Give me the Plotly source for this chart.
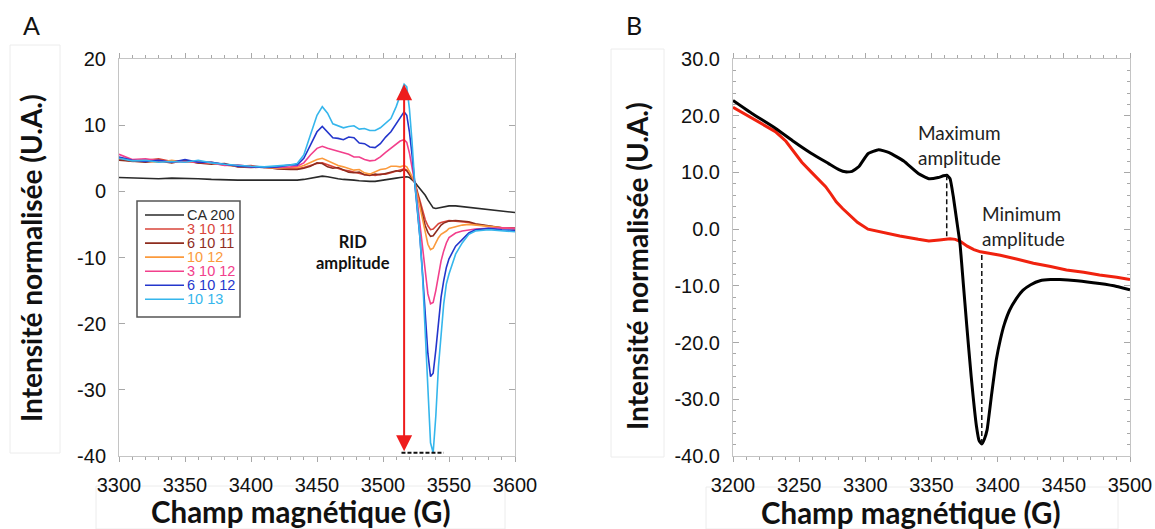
import numpy as np
import plotly.graph_objects as go

W, H = 1155, 529

# ---------------- Panel A data ----------------
field_A = [3300, 3310, 3320, 3330, 3340, 3350, 3360, 3370, 3380, 3390, 3400, 3410, 3420, 3430,
           3435, 3440, 3445, 3450,
           3454, 3458, 3462, 3466, 3470, 3474, 3478, 3482, 3486, 3490, 3494, 3498, 3502, 3506, 3510,
           3513, 3516,
           3518, 3520, 3522, 3524, 3526, 3528, 3530, 3532, 3534, 3536, 3538, 3540, 3542, 3544, 3546, 3548, 3550,
           3555, 3560, 3565, 3570, 3580, 3590, 3600]

ca_200 = [2.1, 2.0, 2.0, 1.9, 2.0, 2.0, 1.9, 1.8, 1.7, 1.7, 1.7, 1.7, 1.6, 1.6,
          1.7, 1.8, 2.0, 2.2,
          2.3, 2.2, 2.0, 1.9, 1.8, 1.8, 1.7, 1.6, 1.5, 1.5, 1.5, 1.6, 1.7, 1.8, 2.0,
          2.1, 2.2,
          2.2, 2.1, 1.8, 1.4, 0.9, 0.4, 0.0, -0.6, -1.3, -2.0, -2.5, -2.6, -2.5, -2.4, -2.3, -2.3, -2.2,
          -2.2, -2.3, -2.4, -2.6, -2.8, -3.0, -3.2]

s_3_10_11 = [4.9, 4.5, 4.7, 4.9, 4.5, 4.6, 4.3, 4.4, 4.0, 3.8, 3.9, 3.6, 3.5, 3.5,
             3.4, 3.6, 3.9, 4.2,
             4.3, 4.0, 3.8, 3.4, 3.2, 3.1, 2.9, 2.6, 2.5, 2.6, 2.4, 2.6, 2.6, 2.8, 3.0,
             3.2, 3.4,
             3.2, 2.6, 2.0, 1.4, 0.0, -1.5, -3.0, -4.3, -5.2, -5.8, -5.7, -5.3, -4.9, -4.7, -4.6, -4.5, -4.4,
             -4.5, -4.6, -4.7, -5.0, -5.3, -5.5, -5.6]

s_6_10_11 = [4.7, 4.6, 4.4, 4.6, 4.3, 4.7, 4.3, 4.1, 4.2, 3.7, 3.6, 3.7, 3.4, 3.3,
             3.3, 3.5, 3.8, 4.3,
             4.2, 3.7, 3.5, 3.6, 3.2, 2.9, 2.8, 2.9, 2.5, 2.4, 2.6, 2.5, 2.7, 2.9, 3.1,
             3.0, 3.3,
             3.1, 2.5, 1.9, 1.4, -0.3, -2.0, -3.7, -5.2, -6.2, -6.8, -6.7, -6.2, -5.6, -5.1, -4.8, -4.6, -4.5,
             -4.4, -4.5, -4.6, -4.9, -5.2, -5.5, -5.6]

s_10_12 = [5.1, 4.7, 4.6, 4.4, 4.7, 4.4, 4.5, 4.2, 4.0, 3.8, 3.7, 3.6, 3.5, 3.6,
           3.6, 3.9, 4.4, 4.8,
           5.0, 4.6, 4.3, 3.9, 3.7, 3.4, 3.2, 3.3, 2.8, 2.6, 2.9, 3.3, 3.4, 3.8, 3.8,
           3.7, 3.9,
           3.7, 3.0, 2.2, 1.4, -0.5, -2.5, -4.5, -6.5, -8.0, -8.8, -8.6, -7.8, -7.0, -6.5, -6.3, -6.0, -5.6,
           -5.3, -5.1, -5.0, -5.1, -5.4, -5.6, -5.7]

s_3_10_12 = [5.6, 4.8, 4.9, 4.6, 4.4, 4.5, 4.4, 4.3, 3.9, 4.0, 3.7, 3.6, 3.6, 3.7,
             3.8, 4.3, 5.5, 6.5,
             6.8, 6.5, 6.3, 6.0, 5.9, 5.6, 5.2, 5.2, 4.8, 4.6, 4.7, 5.2, 5.9, 6.5, 7.2,
             7.6, 7.8,
             7.4, 5.8, 3.8, 1.4, -1.5, -5.0, -9.0, -12.5, -15.5, -17.0, -16.8, -15.0, -12.5, -10.5, -9.0, -7.8, -7.0,
             -6.3, -6.0, -5.8, -5.7, -5.6, -5.5, -5.6]

s_6_10_12 = [5.2, 4.7, 4.5, 4.7, 4.4, 4.8, 4.4, 4.4, 4.1, 3.8, 3.7, 3.6, 3.7, 4.0,
             4.0, 5.0, 7.0, 9.0,
             9.8, 9.0, 8.1, 8.0, 7.8, 8.2, 8.1, 7.3, 7.2, 6.7, 6.6, 7.2, 8.2, 9.0, 10.2,
             11.2, 12.0,
             11.5, 9.0, 5.5, 1.5, -2.5, -7.0, -12.5, -18.5, -24.5, -28.0, -27.5, -24.0, -19.5, -16.0, -13.5, -11.5, -10.2,
             -8.3, -7.3, -6.3, -5.8, -5.6, -5.8, -5.9]

s_10_13 = [5.0, 4.6, 4.7, 4.4, 4.5, 4.4, 4.7, 4.3, 4.1, 3.9, 3.8, 3.7, 3.8, 4.0,
           4.2, 5.5, 8.5, 11.5,
           12.8, 11.8, 10.2, 9.9, 9.6, 9.8, 9.9, 9.4, 9.5, 9.2, 9.2, 9.6, 10.3, 11.0, 12.8,
           14.5, 16.2,
           15.8, 12.5, 7.5, 1.4, -2.5, -7.0, -13.0, -21.0, -29.0, -38.0, -39.5, -34.0, -26.5, -21.0, -17.0, -14.0, -12.5,
           -9.5, -7.8, -6.5, -6.0, -5.8, -5.9, -6.1]

names_A = ["CA 200", "3 10 11", "6 10 11", "10 12", "3 10 12", "6 10 12", "10 13"]
series_A = [ca_200, s_3_10_11, s_6_10_11, s_10_12, s_3_10_12, s_6_10_12, s_10_13]
colors_A = ["#2a2a2a", "#d9443a", "#8e2c1e", "#fb9a3c", "#f2408c", "#2436cc", "#35b6ec"]

xticks_A = [3300, 3350, 3400, 3450, 3500, 3550, 3600]
yticks_A = [20, 10, 0, -10, -20, -30, -40]
yticklabels_A = ["20", "10", "0", "-10", "-20", "-30", "-40"]

# ---------------- Panel B data ----------------
field_B_black = [3200, 3215, 3232, 3245, 3259, 3272, 3280, 3285, 3290, 3295,
                 3302, 3310, 3318, 3329, 3340, 3348, 3355, 3359, 3361.5, 3364,
                 3366.5, 3369, 3371.5, 3374, 3376.5, 3380, 3384, 3386, 3388, 3390,
                 3392, 3395.5, 3399, 3402, 3405, 3409, 3414, 3419, 3425, 3432,
                 3440, 3447, 3460, 3477, 3490, 3500]
int_B_black = [22.7, 20.3, 17.8, 15.6, 13.4, 11.6, 10.5, 10.1, 10.2, 11.0,
               13.3, 14.0, 13.5, 12.0, 9.8, 8.9, 9.1, 9.4, 9.5, 8.9,
               5.7, 1.6, -2.5, -9.5, -16.6, -26.0, -34.8, -37.3, -37.9, -37.0,
               -35.4, -29.0, -23.0, -19.5, -16.8, -14.3, -12.3, -10.8, -9.8, -9.1,
               -8.9, -8.9, -9.1, -9.6, -10.1, -10.7]

field_B_red = [3200, 3215, 3232, 3240, 3246, 3252, 3259, 3265, 3270, 3274,
               3278, 3283, 3288, 3294, 3302, 3313, 3326, 3340, 3348, 3356,
               3364, 3368, 3372, 3377, 3382, 3387, 3393, 3402, 3415, 3427,
               3440, 3452, 3465, 3477, 3490, 3500]
int_B_red = [21.5, 19.5, 17.2, 15.5, 13.6, 11.8, 10.1, 8.7, 7.5, 6.2,
             4.8, 3.6, 2.5, 1.2, 0.0, -0.6, -1.2, -1.8, -2.1, -1.9,
             -1.7, -1.8, -2.2, -3.0, -3.6, -4.0, -4.2, -4.6, -5.3, -6.0,
             -6.6, -7.2, -7.6, -8.1, -8.5, -8.9]

xticks_B = [3200, 3250, 3300, 3350, 3400, 3450, 3500]
yticks_B = [30, 20, 10, 0, -10, -20, -30, -40]
yticklabels_B = ["30.0", "20.0", "10.0", "0.0", "-10.0", "-20.0", "-30.0", "-40.0"]

# ---------------- helpers ----------------
def PX(x):
    return x / W


def PY(y):
    return 1 - y / H


TICK_FONT = dict(family="Liberation Sans, Arial, sans-serif", size=20, color="#111111")
YTITLE_FONT = dict(family="Lato, sans-serif", size=28, color="#111111", weight="bold")
XTITLE_FONT = dict(family="Lato, sans-serif", size=29.5, color="#111111", weight="bold")
AX_LINE = "#c4c4c4"
TICK_COL = "#a8a8a8"

fig = go.Figure()

for name, ys, col in zip(names_A, series_A, colors_A):
    fig.add_trace(go.Scatter(x=field_A, y=ys, mode="lines", name=name,
                             line=dict(color=col, width=1.6),
                             xaxis="x", yaxis="y", showlegend=False))

fig.add_trace(go.Scatter(x=field_B_red, y=int_B_red, mode="lines", name="red",
                         line=dict(color="#f0220f", width=3),
                         xaxis="x2", yaxis="y2", showlegend=False))
fig.add_trace(go.Scatter(x=field_B_black, y=int_B_black, mode="lines", name="black",
                         line=dict(color="#000000", width=3, shape="spline", smoothing=0.4),
                         xaxis="x2", yaxis="y2", showlegend=False))

common_x = dict(showline=True, linecolor=AX_LINE, linewidth=1, mirror="ticks",
                ticks="outside", ticklen=5, tickcolor=TICK_COL, tickfont=TICK_FONT,
                showgrid=False, zeroline=False, ticklabelstandoff=6, automargin=False)
common_y = dict(showline=True, linecolor=AX_LINE, linewidth=1, mirror="ticks",
                ticks="inside", ticklen=6, tickcolor=TICK_COL, tickfont=TICK_FONT,
                showgrid=False, zeroline=False, ticklabelstandoff=8, automargin=False)

fig.update_layout(
    width=W, height=H, autosize=False,
    margin=dict(l=0, r=0, t=0, b=0, pad=0),
    paper_bgcolor="white", plot_bgcolor="white",
    xaxis=dict(domain=[PX(119), PX(515)], range=[3300, 3600], anchor="y",
               tickmode="array", tickvals=xticks_A, ticktext=[str(v) for v in xticks_A],
               minor=dict(tickmode="array", tickvals=list(range(3300, 3601, 10)),
                          ticks="outside", ticklen=3, tickcolor=TICK_COL),
               **common_x),
    yaxis=dict(domain=[PY(456), PY(59)], range=[-40, 20], anchor="x",
               tickmode="array", tickvals=yticks_A, ticktext=yticklabels_A,
               **common_y),
    xaxis2=dict(domain=[PX(733), PX(1130)], range=[3200, 3500], anchor="y2",
                tickmode="array", tickvals=xticks_B, ticktext=[str(v) for v in xticks_B],
                minor=dict(tickmode="array", tickvals=list(range(3200, 3501, 10)),
                           ticks="outside", ticklen=3, tickcolor=TICK_COL),
                **common_x),
    yaxis2=dict(domain=[PY(456), PY(59)], range=[-40, 30], anchor="x2",
                tickmode="array", tickvals=yticks_B, ticktext=yticklabels_B,
                minor=dict(tickmode="array", tickvals=list(range(-40, 31, 2)),
                           ticks="inside", ticklen=3, tickcolor=TICK_COL),
                **common_y),
)

shapes = []
annotations = []

# faint frames of pasted image pieces
for (x0, y0, x1, y1) in [(10, 45, 60, 453), (96, 486, 505, 529),
                         (611, 49, 664, 457), (706, 487, 1118, 529)]:
    shapes.append(dict(type="rect", xref="paper", yref="paper",
                       x0=PX(x0), x1=PX(x1), y0=PY(y1), y1=PY(y0),
                       line=dict(color="#ececec", width=1), layer="below"))

# panel letters
for letter, (cx, cy) in [("A", (31, 25)), ("B", (634, 25))]:
    annotations.append(dict(text=letter, xref="paper", yref="paper", x=PX(cx), y=PY(cy),
                            xanchor="center", yanchor="middle", showarrow=False,
                            font=dict(family="Lato, sans-serif", size=25, color="#111")))

# axis titles
for (cx, cy) in [(31, 258), (637, 266)]:
    annotations.append(dict(text="Intensité normalisée (U.A.)", xref="paper", yref="paper",
                            x=PX(cx), y=PY(cy), textangle=-90, showarrow=False,
                            xanchor="center", yanchor="middle", font=YTITLE_FONT))
for (cx, cy) in [(301, 511), (911, 512)]:
    annotations.append(dict(text="Champ magnétique (G)", xref="paper", yref="paper",
                            x=PX(cx), y=PY(cy), showarrow=False,
                            xanchor="center", yanchor="middle", font=XTITLE_FONT))

# manual legend panel A (box, line samples, one multi-line coloured text block)
shapes.append(dict(type="rect", xref="paper", yref="paper",
                   x0=PX(137), x1=PX(240), y0=PY(317), y1=PY(201),
                   line=dict(color="#555555", width=1.5), fillcolor="rgba(0,0,0,0)"))
LEG_STEP = 14.05
for i, col in enumerate(colors_A):
    yy = 215 + i * LEG_STEP
    shapes.append(dict(type="line", xref="paper", yref="paper",
                       x0=PX(145), x1=PX(184), y0=PY(yy), y1=PY(yy),
                       line=dict(color=col, width=1.6)))
legend_text = "<br>".join(
    f"<span style='color:{c};font-size:14.5px'>{n}</span>" for n, c in zip(names_A, colors_A))
annotations.append(dict(text=legend_text, xref="paper", yref="paper",
                        x=PX(185), y=PY(215 + 3 * LEG_STEP),
                        xanchor="left", yanchor="middle", align="left", showarrow=False,
                        font=dict(family="Liberation Sans, Arial, sans-serif",
                                  size=LEG_STEP / 1.3, color="#222")))

# RID amplitude arrow (from max to min of the 10 13 series)
y1013 = np.array(s_10_13)
i_max = int(np.argmax(y1013))
i_min = int(np.argmin(y1013))
x_rid = field_A[i_max]
annotations.append(dict(x=x_rid, y=float(y1013[i_max]), ax=x_rid, ay=float(y1013[i_min]),
                        xref="x", yref="y", axref="x", ayref="y", text="", showarrow=True,
                        arrowhead=2, startarrowhead=2, arrowside="end+start",
                        arrowsize=1.6, startarrowsize=1.6, arrowwidth=2, arrowcolor="#ee1c1c"))
shapes.append(dict(type="line", xref="x", yref="y",
                   x0=x_rid - 2, x1=field_A[i_min] + 8,
                   y0=float(y1013[i_min]), y1=float(y1013[i_min]),
                   line=dict(color="#111", width=2, dash="4px,2px")))
annotations.append(dict(text="RID<br>amplitude", xref="x", yref="y", x=3477, y=-9.2,
                        showarrow=False, xanchor="center", yanchor="middle",
                        font=dict(family="Lato, sans-serif", size=16.5, color="#111", weight="bold")))

# Panel B dashed markers
bk = np.array(int_B_black)
fb = np.array(field_B_black)
mask = (fb > 3350) & (fb < 3368)
j_max = int(np.where(mask)[0][np.argmax(bk[mask])])
j_min = int(np.argmin(bk))
for j in (j_max, j_min):
    xv = float(fb[j])
    yr = float(np.interp(xv, field_B_red, int_B_red))
    shapes.append(dict(type="line", xref="x2", yref="y2", x0=xv, x1=xv, y0=float(bk[j]), y1=yr,
                       line=dict(color="#111", width=1.5, dash="5px,3px")))

annotations.append(dict(text="Maximum<br>amplitude", xref="x2", yref="y2", x=3338, y=14.8,
                        showarrow=False, xanchor="left", yanchor="middle", align="left",
                        font=dict(family="Lato, sans-serif", size=19, color="#222")))
annotations.append(dict(text="Minimum<br>amplitude", xref="x2", yref="y2", x=3386.8, y=0.6,
                        showarrow=False, xanchor="left", yanchor="middle", align="left",
                        font=dict(family="Lato, sans-serif", size=19, color="#222")))

fig.update_layout(shapes=shapes, annotations=annotations)
fig.write_html("out.html", config={"displayModeBar": False},
               post_script="document.body.style.margin='0';document.body.style.overflow='hidden';")
